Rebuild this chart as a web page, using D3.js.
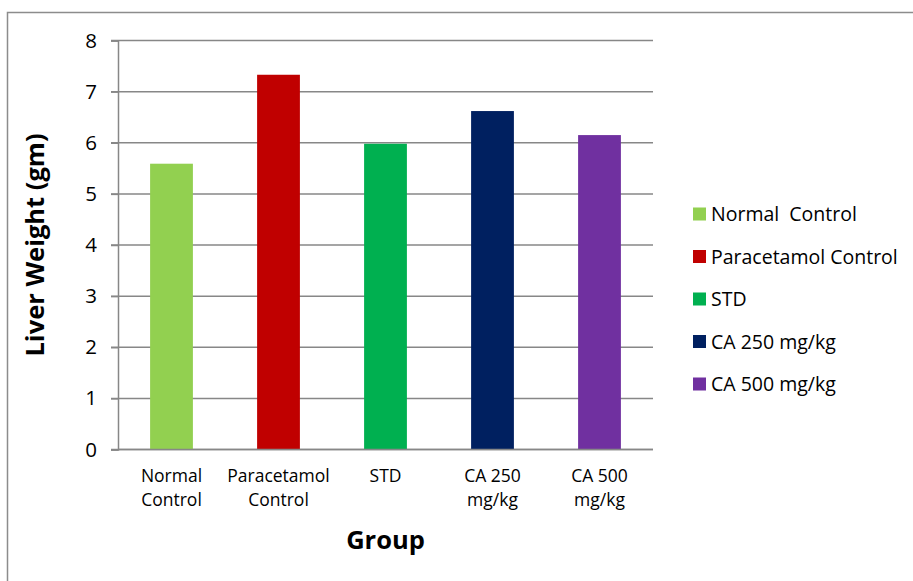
<!DOCTYPE html>
<html>
<head>
<meta charset="utf-8">
<script src="https://cdn.jsdelivr.net/npm/d3@7"></script>
<style>
  html, body { margin: 0; padding: 0; background: #fff; }
  svg { display: block; font-family: "Open Sans", "Lato", "Liberation Sans", sans-serif; }
</style>
</head>
<body>
<svg id="chart" width="913" height="581"></svg>
<script>
// Liver weight per treatment group
const groups = ["Normal  Control", "Paracetamol Control", "STD", "CA 250 mg/kg", "CA 500 mg/kg"];
const axisLabels = [["Normal", "Control"], ["Paracetamol", "Control"], ["STD"], ["CA 250", "mg/kg"], ["CA 500", "mg/kg"]];
const liverWeight = [5.59, 7.33, 5.98, 6.62, 6.15];
const colors = ["#92d050", "#c00000", "#00b050", "#002060", "#7030a0"];
const yTicks = [0, 1, 2, 3, 4, 5, 6, 7, 8];

const svg = d3.select("#chart");
const plot = { left: 118, right: 653, top: 40.5, bottom: 449.5 };

// outer chart frame
svg.append("rect")
  .attr("x", 7.5).attr("y", 12.5)
  .attr("width", 1000).attr("height", 700)
  .attr("fill", "none").attr("stroke", "#8c8c8c").attr("stroke-width", 1.5);

const x = d3.scaleBand().domain(groups).range([plot.left, plot.right]).paddingInner(0.6).paddingOuter(0.3);
const y = d3.scaleLinear().domain([0, 8]).range([plot.bottom, plot.top]);

// horizontal gridlines
svg.append("g").selectAll("line").data(yTicks.filter(d => d > 0)).join("line")
  .attr("x1", plot.left - 7).attr("x2", plot.right)
  .attr("y1", d => y(d)).attr("y2", d => y(d))
  .attr("stroke", "#878787").attr("stroke-width", 1.5);

// y axis
const yAxis = d3.axisLeft(y).tickValues(yTicks).tickSize(7).tickPadding(14);
const gy = svg.append("g").attr("transform", `translate(${plot.left},0)`).call(yAxis);
gy.select(".domain").attr("stroke", "#878787").attr("stroke-width", 1.5);
gy.selectAll(".tick line").attr("stroke", "#878787").attr("stroke-width", 1.5);
gy.selectAll(".tick text").attr("font-size", 20.5).attr("fill", "#000")
  .attr("font-family", "Open Sans, sans-serif");

// x axis baseline
svg.append("line")
  .attr("x1", plot.left - 7).attr("x2", plot.right)
  .attr("y1", plot.bottom).attr("y2", plot.bottom)
  .attr("stroke", "#878787").attr("stroke-width", 1.5);

// bars
svg.append("g").selectAll("rect").data(groups).join("rect")
  .attr("x", d => x(d))
  .attr("width", x.bandwidth())
  .attr("y", (d, i) => y(liverWeight[i]))
  .attr("height", (d, i) => y(0) - y(liverWeight[i]))
  .attr("fill", (d, i) => colors[i]);

// redraw baseline over bars
svg.append("line")
  .attr("x1", plot.left).attr("x2", plot.right)
  .attr("y1", plot.bottom).attr("y2", plot.bottom)
  .attr("stroke", "#878787").attr("stroke-width", 1.5);

// category labels
const cat = svg.append("g").selectAll("text").data(groups).join("text")
  .attr("x", d => x(d) + x.bandwidth() / 2)
  .attr("y", 482)
  .attr("text-anchor", "middle")
  .attr("font-size", 17.5)
  .attr("fill", "#000");
cat.each(function(d, i) {
  const t = d3.select(this);
  axisLabels[i].forEach((line, k) => {
    t.append("tspan").attr("x", x(d) + x.bandwidth() / 2).attr("dy", k === 0 ? 0 : 24).text(line);
  });
});

// axis titles
svg.append("text")
  .attr("x", (plot.left + plot.right) / 2).attr("y", 549)
  .attr("text-anchor", "middle").attr("font-size", 25.5).attr("font-weight", "bold")
  .text("Group");

svg.append("text")
  .attr("transform", "translate(44,245) rotate(-90)")
  .attr("text-anchor", "middle").attr("font-size", 25.5).attr("font-weight", "bold")
  .text("Liver Weight (gm)");

// legend
const legend = svg.append("g").selectAll("g").data(groups).join("g")
  .attr("transform", (d, i) => `translate(693,${214 + i * 42.5})`);
legend.append("rect")
  .attr("x", 0).attr("y", -6.5).attr("width", 13).attr("height", 13)
  .attr("fill", (d, i) => colors[i]);
legend.append("text")
  .attr("x", 18).attr("y", 7)
  .attr("font-size", 19.5).attr("fill", "#000")
  .attr("xml:space", "preserve")
  .style("white-space", "pre")
  .text(d => d);
</script>
</body>
</html>
